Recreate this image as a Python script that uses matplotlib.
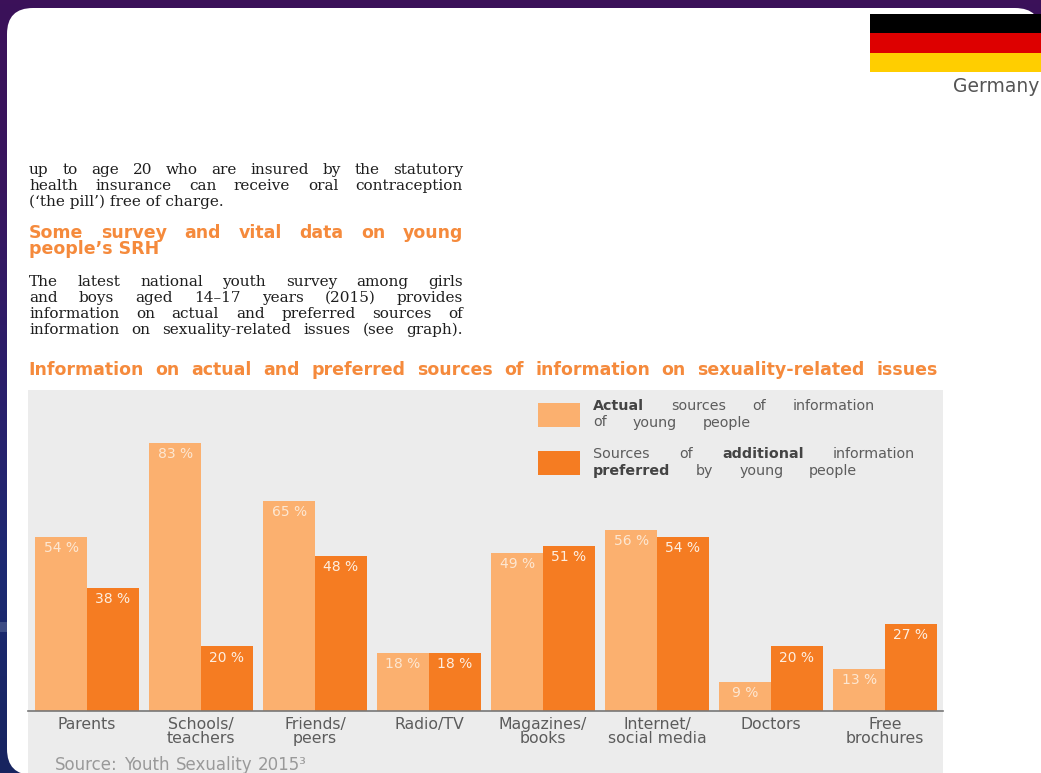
import matplotlib
matplotlib.use("Agg")
import matplotlib.pyplot as plt
from matplotlib.colors import LinearSegmentedColormap
from matplotlib.patches import FancyBboxPatch, Rectangle
import numpy as np

W, H = 1041, 773

categories = ["Parents", "Schools/\nteachers", "Friends/\npeers", "Radio/TV",
              "Magazines/\nbooks", "Internet/\nsocial media", "Doctors", "Free\nbrochures"]
actual = [54, 83, 65, 18, 49, 56, 9, 13]
preferred = [38, 20, 48, 18, 51, 54, 20, 27]

title = "Information on actual and preferred sources of information on sexuality-related issues"
source = "Source: Youth Sexuality 2015³"
country = "Germany"
flag_colors = ["#000000", "#dd0000", "#ffce00"]

para1 = ["up to age 20 who are insured by the statutory",
         "health insurance can receive oral contraception",
         "(‘the pill’) free of charge."]
heading = ["Some survey and vital data on young", "people’s SRH"]
para2 = ["The latest national youth survey among girls",
         "and boys aged 14–17 years (2015) provides",
         "information on actual and preferred sources of",
         "information on sexuality-related issues (see graph)."]

LIGHT = "#fbb06f"
DARK = "#f57c22"
ORANGE_TEXT = "#f58a3c"
GREY_TEXT = "#5c5c5c"

fig = plt.figure(figsize=(W / 100, H / 100), dpi=100)

# backdrop and page, in pixel coordinates
bg = fig.add_axes([0, 0, 1, 1], zorder=0)
bg.axis("off")
cmap = LinearSegmentedColormap.from_list("bg", ["#3b1159", "#38165f", "#2a1f6b", "#1c2a72", "#17245f"])
bg.imshow(np.linspace(0, 1, 200).reshape(-1, 1), cmap=cmap, extent=(0, W, H, 0), aspect="auto")
bg.add_patch(Rectangle((0, 622), 7, 10, color="#3d4c84", lw=0))
bg.add_patch(FancyBboxPatch((7 + 26, 8 + 26), W - 7 - 52, H - 8 - 50, boxstyle="round,pad=26,rounding_size=26",
                            fc="white", ec="none"))
bg.add_patch(Rectangle((900, 700), W - 900, H - 700, color="white", lw=0))
bg.set_xlim(0, W)
bg.set_ylim(H, 0)

# flag
for i, c in enumerate(flag_colors):
    bg.add_patch(Rectangle((870, 14 + i * 19.3), 171, 19.3, color=c, lw=0))
bg.text(1039, 87, country, ha="right", va="center", fontsize=13.5, color="#555555", family="DejaVu Sans")


def justified(lines, y0, step, x0, x1, last_free=True, **kw):
    renderer = fig.canvas.get_renderer()
    for n, line in enumerate(lines):
        words = line.split(" ")
        y = y0 + n * step
        if last_free and n == len(lines) - 1:
            bg.text(x0, y, line, ha="left", va="center", **kw)
            continue
        items = [bg.text(0, y, w, ha="left", va="center", **kw) for w in words]
        widths = [t.get_window_extent(renderer).width for t in items]
        gap = (x1 - x0 - sum(widths)) / max(len(words) - 1, 1)
        x = x0
        for t, w_ in zip(items, widths):
            t.set_x(x)
            x += w_ + gap


serif = dict(family="DejaVu Serif", fontsize=11, color="#1e1e1e")
justified(para1, 170, 16, 29, 463, **serif)
justified(heading, 233.5, 16, 29, 463, family="DejaVu Sans", fontsize=12.5, fontweight="bold", color=ORANGE_TEXT)
justified(para2, 282, 16, 29, 463, last_free=False, **serif)
justified([title], 370, 16, 28, 938, last_free=False, family="DejaVu Sans", fontsize=12.5,
          fontweight="bold", color=ORANGE_TEXT)

# chart panel
x_left, x_right, y_top, y_bottom = 28, 943, 390, 773
ax = fig.add_axes([x_left / W, 1 - y_bottom / H, (x_right - x_left) / W, (y_bottom - y_top) / H], zorder=1)
ax.set_facecolor("#ececec")
px_per_pct = 3.23
ax.set_xlim(-59 / 114, 7 + 58 / 114)
ax.set_ylim(-(y_bottom - 711) / px_per_pct, (711 - y_top) / px_per_pct)

x = np.arange(len(categories))
w = 0.455
bars1 = ax.bar(x - w / 2, actual, w, color=LIGHT)
bars2 = ax.bar(x + w / 2, preferred, w, color=DARK)

for rects, vals, col in ((bars1, actual, "#fde7d2"), (bars2, preferred, "#fdeee0")):
    for r, v in zip(rects, vals):
        ax.annotate(f"{v} %", (r.get_x() + r.get_width() / 2, v), xytext=(0, -8), textcoords="offset points",
                    ha="center", va="center", fontsize=10, color=col, family="DejaVu Sans")

for s in ("top", "left", "right"):
    ax.spines[s].set_visible(False)
ax.spines["bottom"].set_position(("data", 0))
ax.spines["bottom"].set_color("#777777")
ax.spines["bottom"].set_linewidth(1.2)
ax.set_yticks([])
ax.set_xticks(x)
ax.set_xticklabels(categories, fontsize=11.3, color=GREY_TEXT, family="DejaVu Sans", linespacing=0.95)
ax.tick_params(axis="x", length=0, pad=4)

# legend, and everything else that sits on the panel
fg = fig.add_axes([0, 0, 1, 1], zorder=2)
fg.set_xlim(0, W)
fg.set_ylim(H, 0)
fg.axis("off")
fg.patch.set_alpha(0)


def runs(x0, x1, y, parts, size=10.3):
    renderer = fig.canvas.get_renderer()
    items = []
    for txt, weight in parts:
        col = GREY_TEXT if weight == "normal" else "#444444"
        items.append(fg.text(0, y, txt, ha="left", va="center", fontsize=size, color=col,
                             fontweight=weight, family="DejaVu Sans"))
    widths = [t.get_window_extent(renderer).width for t in items]
    gap = (x1 - x0 - sum(widths)) / max(len(items) - 1, 1)
    for t, w_ in zip(items, widths):
        t.set_x(x0)
        x0 += w_ + gap


fg.add_patch(Rectangle((538, 403), 42, 24, color=LIGHT, lw=0))
fg.add_patch(Rectangle((538, 451), 42, 24, color=DARK, lw=0))
runs(593, 875, 406.5, [("Actual", "bold"), ("sources", "normal"), ("of", "normal"), ("information", "normal")])
runs(593, 751, 422.5, [("of", "normal"), ("young", "normal"), ("people", "normal")])
runs(593, 915, 454.5, [("Sources", "normal"), ("of", "normal"), ("additional", "bold"), ("information", "normal")])
runs(593, 857, 470.5, [("preferred", "bold"), ("by", "normal"), ("young", "normal"), ("people", "normal")])
runs(55, 307, 765, [(p, "normal") for p in source.split(" ")], size=12)
for t in fg.texts[-4:]:
    t.set_color("#999999")

plt.savefig("out.png", dpi=100)
plt.close()
